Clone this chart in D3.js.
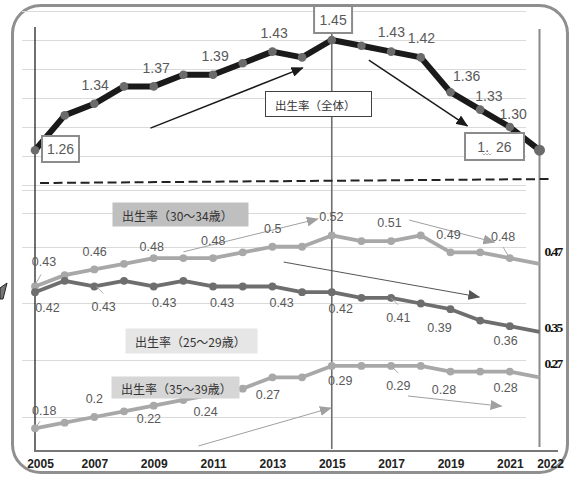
<!DOCTYPE html>
<html>
<head>
<meta charset="utf-8">
<script src="https://cdn.jsdelivr.net/npm/d3@7"></script>
<style>
  html, body { margin: 0; padding: 0; background: #fff; }
  svg { display: block; }
</style>
</head>
<body>
<svg id="chart" width="572" height="480"></svg>
<script>
// ---- data ---------------------------------------------------------------
const years      = [2005, 2006, 2007, 2008, 2009, 2010, 2011, 2012, 2013, 2014, 2015, 2016, 2017, 2018, 2019, 2020, 2021, 2022];
const rateAll    = [1.26, 1.32, 1.34, 1.37, 1.37, 1.39, 1.39, 1.41, 1.43, 1.42, 1.45, 1.44, 1.43, 1.42, 1.36, 1.33, 1.30, 1.26];
const rate30to34 = [0.43, 0.45, 0.46, 0.47, 0.48, 0.48, 0.48, 0.49, 0.50, 0.50, 0.52, 0.51, 0.51, 0.52, 0.49, 0.49, 0.48, 0.47];
const rate25to29 = [0.42, 0.44, 0.43, 0.44, 0.43, 0.44, 0.43, 0.43, 0.43, 0.42, 0.42, 0.41, 0.41, 0.40, 0.39, 0.37, 0.36, 0.35];
const rate35to39 = [0.18, 0.19, 0.20, 0.21, 0.22, 0.23, 0.24, 0.25, 0.27, 0.27, 0.29, 0.29, 0.29, 0.29, 0.28, 0.28, 0.28, 0.27];
const tickYears  = [2005, 2007, 2009, 2011, 2013, 2015, 2017, 2019, 2021, 2022];
const gridTop    = [1.20, 1.25, 1.30, 1.35, 1.40, 1.45, 1.50];
const gridLow    = [0.20, 0.30, 0.40, 0.50, 0.56, 0.60];
const refYears   = [2005, 2015, 2022];
const seriesNames = ["出生率（全体）", "出生率（30～34歳）", "出生率（25～29歳）", "出生率（35～39歳）"];

// ---- scales ---------------------------------------------------------------
const x    = d3.scaleLinear().domain([2005, 2022]).range([35, 539.5]);
const yTop = d3.scaleLinear().domain([1.20, 1.50]).range([185, 11]);   // total rate panel
const yLow = d3.scaleLinear().domain([0.20, 0.60]).range([417, 190]);  // age-group panel

const svg = d3.select("#chart");
const NUM_FONT = "'Liberation Sans', Arial, sans-serif";
const JP_FONT = "'Noto Sans CJK JP', 'Noto Sans', sans-serif";

// arrowheads
const defs = svg.append("defs");
[["ahBlack", "#1a1a1a"], ["ahGray", "#a0a0a0"], ["ahDark", "#555"]].forEach(([id, c]) => {
  defs.append("marker")
    .attr("id", id).attr("markerUnits", "userSpaceOnUse")
    .attr("markerWidth", 12).attr("markerHeight", 10)
    .attr("refX", 11).attr("refY", 5).attr("orient", "auto")
    .append("path").attr("d", "M0,0 L12,5 L0,10 Z").attr("fill", c);
});

// frame
svg.append("rect")
  .attr("x", 12.5).attr("y", 5.5).attr("width", 555).attr("height", 467)
  .attr("rx", 28).attr("ry", 28)
  .attr("fill", "none").attr("stroke", "#8f8f8f").attr("stroke-width", 3);

// clipped shape peeking in at the left edge
svg.append("polygon")
  .attr("points", "0,288 7,283 3,299 0,299")
  .attr("fill", "#777").attr("stroke", "#222").attr("stroke-width", 1);

// ---- gridlines ----------------------------------------------------------
const grid = svg.append("g").attr("stroke", "#dadada").attr("stroke-width", 1);
grid.selectAll("line.t").data(gridTop).join("line").attr("class", "t")
  .attr("x1", 22).attr("x2", 526)
  .attr("y1", d => Math.round(yTop(d)) + 0.5).attr("y2", d => Math.round(yTop(d)) + 0.5);
grid.selectAll("line.l").data(gridLow).join("line").attr("class", "l")
  .attr("x1", 22).attr("x2", 526)
  .attr("y1", d => Math.round(yLow(d)) + 0.5).attr("y2", d => Math.round(yLow(d)) + 0.5);

// ---- vertical reference lines --------------------------------------------
const refStyle = {
  2005: { color: "#111", w: 1.2, y1: 27, y2: 452 },
  2015: { color: "#6f6f6f", w: 1.6, y1: 33, y2: 449 },
  2022: { color: "#8a8a8a", w: 2, y1: 29, y2: 447 }
};
svg.append("g").selectAll("line").data(refYears).join("line")
  .attr("x1", d => x(d)).attr("x2", d => x(d))
  .attr("y1", d => refStyle[d].y1).attr("y2", d => refStyle[d].y2)
  .attr("stroke", d => refStyle[d].color).attr("stroke-width", d => refStyle[d].w);

// ---- x axis -----------------------------------------------------------------
svg.append("line")
  .attr("x1", x(2005)).attr("x2", 558).attr("y1", 451).attr("y2", 451)
  .attr("stroke", "#777").attr("stroke-width", 2);

const xAxis = d3.axisBottom(x).tickValues(tickYears).tickFormat(d3.format("d"))
  .tickSize(0).tickPadding(8);
const axisG = svg.append("g").attr("transform", "translate(0,451)").call(xAxis);
axisG.select(".domain").remove();
axisG.selectAll("text")
  .attr("font-family", NUM_FONT).attr("font-size", 12).attr("font-weight", "bold")
  .attr("fill", "#222")
  .attr("dx", d => d === 2005 ? 5 : d === 2022 ? 10.5 : 0);

// ---- break line between panels ---------------------------------------------
svg.append("line")
  .attr("x1", x(2005.17)).attr("y1", yTop(1.2034))
  .attr("x2", x(2022.42)).attr("y2", yTop(1.2103))
  .attr("stroke", "#222").attr("stroke-width", 2).attr("stroke-dasharray", "9,4.5");

// ---- series ------------------------------------------------------------------
const series = [
  { values: rateAll,    y: yTop, color: "#1a1a1a", width: 6,   dot: "#6b6b6b", r: 4.3, lastR: 5.5 },
  { values: rate30to34, y: yLow, color: "#a8a8a8", width: 3.8, dot: "#a8a8a8", r: 3.9, lastR: 0 },
  { values: rate35to39, y: yLow, color: "#a8a8a8", width: 3.8, dot: "#a8a8a8", r: 3.9, lastR: 0 },
  { values: rate25to29, y: yLow, color: "#6e6e6e", width: 3.8, dot: "#6e6e6e", r: 3.9, lastR: 0 }
];

series.forEach(s => {
  const pts = years.map((yr, i) => [yr, s.values[i]]);
  const line = d3.line().x(d => x(d[0])).y(d => s.y(d[1]));
  svg.append("path").datum(pts)
    .attr("d", line).attr("fill", "none")
    .attr("stroke", s.color).attr("stroke-width", s.width)
    .attr("stroke-linejoin", "round");
  svg.append("g").selectAll("circle").data(pts).join("circle")
    .attr("cx", d => x(d[0])).attr("cy", d => s.y(d[1]))
    .attr("r", (d, i) => i === pts.length - 1 ? s.lastR : s.r)
    .attr("fill", s.dot);
});

// ---- trend arrows (data coordinates) --------------------------------------
const arrows = [
  { scale: yTop, from: [2008.89, 1.298], to: [2014.02, 1.402], color: "#1a1a1a", w: 1.5, head: "ahBlack" },
  { scale: yTop, from: [2016.25, 1.4155], to: [2019.57, 1.302], color: "#1a1a1a", w: 1.5, head: "ahBlack" },
  { scale: yLow, from: [2010.0, 0.491], to: [2014.53, 0.549], color: "#a0a0a0", w: 1, head: "ahGray" },
  { scale: yLow, from: [2017.61, 0.547], to: [2020.48, 0.508], color: "#a0a0a0", w: 1, head: "ahGray" },
  { scale: yLow, from: [2013.38, 0.473], to: [2019.97, 0.4115], color: "#555", w: 1, head: "ahDark" },
  { scale: yLow, from: [2010.51, 0.149], to: [2014.97, 0.216], color: "#a0a0a0", w: 1, head: "ahGray" },
  { scale: yLow, from: [2017.57, 0.237], to: [2020.72, 0.219], color: "#a0a0a0", w: 1, head: "ahGray" }
];
svg.append("g").selectAll("line").data(arrows).join("line")
  .attr("x1", d => x(d.from[0])).attr("y1", d => d.scale(d.from[1]))
  .attr("x2", d => x(d.to[0])).attr("y2", d => d.scale(d.to[1]))
  .attr("stroke", d => d.color).attr("stroke-width", d => d.w)
  .attr("marker-end", d => `url(#${d.head})`);

// ---- series name boxes ------------------------------------------------------
const nameBoxes = [
  { name: seriesNames[0], x: 265, y: 91,  w: 106, h: 25, fill: "#fff",    stroke: "#404040", size: 11.5 },
  { name: seriesNames[1], x: 112, y: 202, w: 136, h: 24, fill: "#bfbfbf", stroke: "none",    size: 12 },
  { name: seriesNames[2], x: 125, y: 328, w: 132, h: 25, fill: "#e6e6e6", stroke: "none",    size: 12 },
  { name: seriesNames[3], x: 111, y: 376, w: 128, h: 22, fill: "#d6d6d6", stroke: "none",    size: 12 }
];
const nb = svg.append("g").selectAll("g").data(nameBoxes).join("g");
nb.append("rect")
  .attr("x", d => d.x + 0.5).attr("y", d => d.y + 0.5).attr("width", d => d.w).attr("height", d => d.h)
  .attr("fill", d => d.fill).attr("stroke", d => d.stroke).attr("stroke-width", 1);
nb.append("text")
  .attr("x", d => d.x + 10).attr("y", d => d.y + d.h / 2 + 1)
  .attr("dominant-baseline", "central")
  .attr("font-family", JP_FONT).attr("font-size", d => d.size).attr("fill", "#333")
  .text(d => d.name);

// ---- value labels -----------------------------------------------------------
// offsets are relative to the labelled point
const labelsAll = [
  { i: 0,  dx: 25.5, dy: -1.2, box: [37, 26] },
  { i: 2,  dx: 0.8,  dy: -18.8 },
  { i: 4,  dx: 2.5,  dy: -18.4 },
  { i: 6,  dx: 2,    dy: -18.8 },
  { i: 8,  dx: 1.7,  dy: -18.6 },
  { i: 10, dx: 1.3,  dy: -20.5, box: [38, 27] },
  { i: 12, dx: 0.2,  dy: -19.6 },
  { i: 13, dx: 0.7,  dy: -19.4 },
  { i: 14, dx: 16.2, dy: -16.2 },
  { i: 15, dx: 8.8,  dy: -13.6 },
  { i: 16, dx: 3.3,  dy: -13 },
  { i: 17, dx: -45,  dy: -3.7, box: [59, 27], split: true }
];
const labels30 = [
  { i: 0,  dx: 9,    dy: -24.5, leader: [1, -3, 6, -12] },
  { i: 2,  dx: 0.3,  dy: -17.5 },
  { i: 4,  dx: -2,   dy: -11 },
  { i: 6,  dx: 0.2,  dy: -17.4 },
  { i: 8,  dx: 0.4,  dy: -17.8 },
  { i: 10, dx: -0.4, dy: -18.1 },
  { i: 12, dx: -1.6, dy: -17.8 },
  { i: 14, dx: -2,   dy: -17.4 },
  { i: 16, dx: -6.7, dy: -21, leader: [-2, -3, -6.7, -11] },
  { i: 17, end: true, dy: -11.8 }
];
const labels25 = [
  { i: 0,  dx: 12.5, dy: 16 },
  { i: 2,  dx: 9.3,  dy: 20.5, leader: [2, 0, 9, 7] },
  { i: 4,  dx: 10.5, dy: 16.5 },
  { i: 6,  dx: 9,    dy: 16.5 },
  { i: 8,  dx: 9.2,  dy: 16.8 },
  { i: 10, dx: 9,    dy: 17 },
  { i: 12, dx: 7.2,  dy: 20, leader: [0, 0, 7, 7] },
  { i: 14, dx: -11,  dy: 18.8 },
  { i: 16, dx: -4.2, dy: 14.5 },
  { i: 17, end: true, dy: -4 }
];
const labels35 = [
  { i: 0,  dx: 9.2,  dy: -17.4, leader: [0, 0, 5, -7] },
  { i: 2,  dx: 0,    dy: -17.7 },
  { i: 4,  dx: -4.8, dy: 13.7 },
  { i: 6,  dx: -7.5, dy: 17.4 },
  { i: 8,  dx: -4.5, dy: 17.7 },
  { i: 10, dx: 8.5,  dy: 14.8 },
  { i: 12, dx: 7.2,  dy: 19.8, leader: [0, 0, 7, 7] },
  { i: 14, dx: -6.5, dy: 18.4 },
  { i: 16, dx: -4.2, dy: 16.1 },
  { i: 17, end: true, dy: -14 }
];

const fmtFixed = v => v.toFixed(2);          // total rate: always two decimals
const fmtShort = v => String(+v.toFixed(2)); // age groups: trailing zeros dropped

function drawLabels(values, yScale, specs, size, fmt) {
  const g = svg.append("g");
  specs.forEach(s => {
    const px = x(years[s.i]);
    const py = yScale(values[s.i]);
    const txt = fmt(values[s.i]);
    if (s.leader) {
      g.append("line")
        .attr("x1", px + s.leader[0]).attr("y1", py + s.leader[1])
        .attr("x2", px + s.leader[2]).attr("y2", py + s.leader[3])
        .attr("stroke", "#aaa").attr("stroke-width", 1);
    }
    if (s.end) {
      g.append("text")
        .attr("x", px + 5).attr("y", py + s.dy)
        .attr("dominant-baseline", "central")
        .attr("font-family", "'Liberation Serif', 'Times New Roman', serif")
        .attr("font-size", 13.5).attr("font-weight", "bold")
        .attr("letter-spacing", -1.6).attr("fill", "#111")
        .text(txt);
      return;
    }
    const cx = px + s.dx, cy = py + s.dy;
    if (s.box) {
      g.append("rect")
        .attr("x", cx - s.box[0] / 2).attr("y", cy - s.box[1] / 2)
        .attr("width", s.box[0]).attr("height", s.box[1])
        .attr("fill", "#fff").attr("stroke", "#8c8c8c").attr("stroke-width", 2);
    }
    const t = g.append("text")
      .attr("x", cx).attr("y", cy)
      .attr("text-anchor", "middle").attr("dominant-baseline", "central")
      .attr("font-family", NUM_FONT).attr("font-size", size).attr("fill", "#595959");
    if (s.split) {
      const [a, b] = txt.split(".");
      t.append("tspan").text(a + ".");
      t.append("tspan").attr("dx", 7).text(b);
      // wavy proofing mark under the gap
      g.append("path")
        .attr("d", `M${cx - 12},${cy + 7} l1.5,1.5 l1.5,-1.5 l1.5,1.5 l1.5,-1.5 l1.5,1.5 l1.5,-1.5`)
        .attr("fill", "none").attr("stroke", "#9a9a9a").attr("stroke-width", 0.8);
    } else {
      t.text(txt);
    }
  });
}

drawLabels(rateAll, yTop, labelsAll, 14, fmtFixed);
drawLabels(rate30to34, yLow, labels30, 12.5, fmtShort);
drawLabels(rate25to29, yLow, labels25, 12.5, fmtShort);
drawLabels(rate35to39, yLow, labels35, 12.5, fmtShort);
</script>
</body>
</html>
